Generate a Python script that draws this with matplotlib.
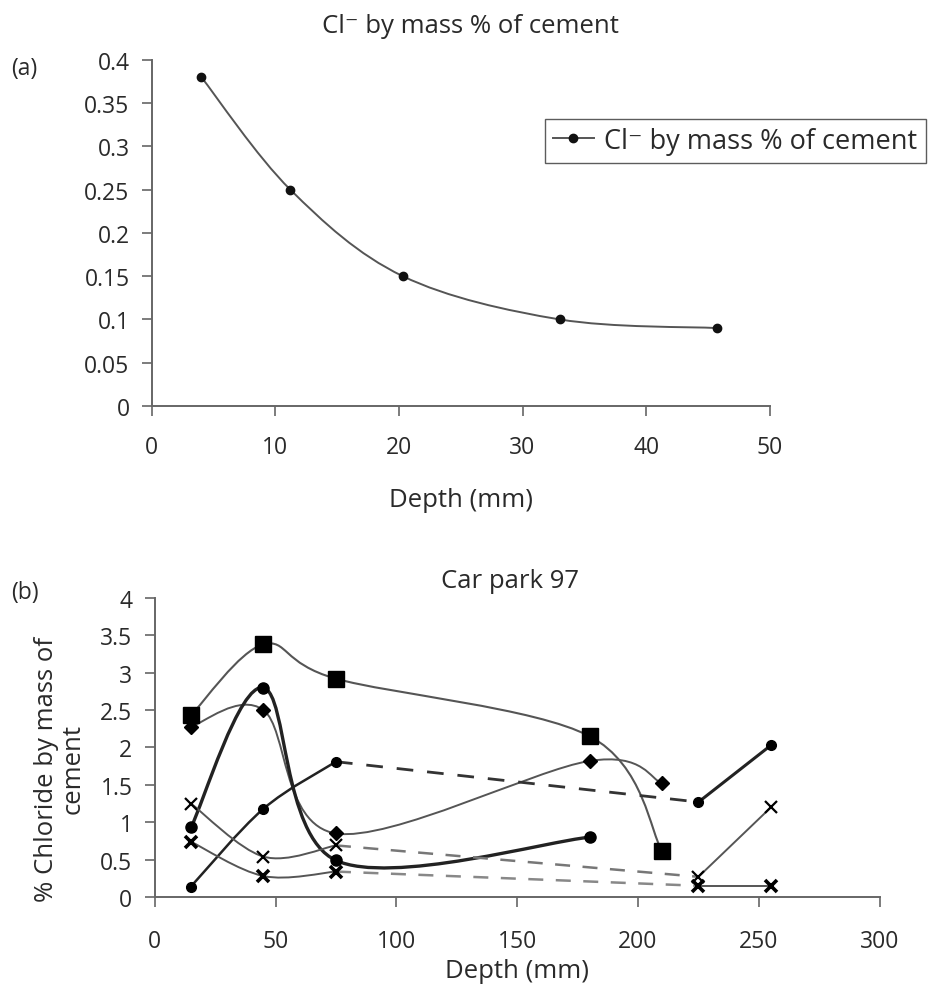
import numpy as np
import matplotlib
matplotlib.use("Agg")
import matplotlib.pyplot as plt
from matplotlib.path import Path
from matplotlib.patches import PathPatch

plt.rcParams['font.family'] = ['Open Sans', 'DejaVu Sans']

# (a) chloride profile
depth_a = [4, 11.2, 20.3, 33, 45.7]
cl_a = [0.38, 0.25, 0.15, 0.10, 0.09]

# (b) Car park 97
sq_x = [15, 45, 75, 180, 210]
sq_y = [2.43, 3.38, 2.92, 2.15, 0.61]
dia_x = [15, 45, 75, 180, 210]
dia_y = [2.28, 2.50, 0.85, 1.82, 1.52]
circA_x = [15, 45, 75, 180]
circA_y = [0.93, 2.80, 0.49, 0.80]
circB_x = [15, 45, 75, 225, 255]
circB_y = [0.14, 1.18, 1.81, 1.27, 2.03]
crossC_x = [15, 45, 75, 225, 255]
crossC_y = [1.25, 0.54, 0.69, 0.27, 1.20]
crossD_x = [15, 45, 75, 225, 255]
crossD_y = [0.74, 0.28, 0.34, 0.15, 0.15]


def smooth_path(xs, ys):
    # Excel-style smoothed line as cubic bezier segments
    pts = np.column_stack([xs, ys]).astype(float)
    n = len(pts)
    verts = [pts[0]]
    codes = [Path.MOVETO]
    for i in range(n - 1):
        p0 = pts[i - 1] if i > 0 else pts[i]
        p1, p2 = pts[i], pts[i + 1]
        p3 = pts[i + 2] if i + 2 < n else p2
        verts += [p1 + (p2 - p0) / 6, p2 - (p3 - p1) / 6, p2]
        codes += [Path.CURVE4] * 3
    return Path(verts, codes)


def smooth_line(ax, xs, ys, color, lw):
    ax.add_patch(PathPatch(smooth_path(xs, ys), fill=False, edgecolor=color, lw=lw, zorder=2))


def style_axes(ax, size):
    for s in ["top", "right"]:
        ax.spines[s].set_visible(False)
    for s in ["left", "bottom"]:
        ax.spines[s].set_color("#666666")
        ax.spines[s].set_linewidth(1.4)
    ax.tick_params(direction="out", length=7, width=1.2, color="#666666", labelsize=size,
                   labelcolor="#2a2a2a")
    ax.tick_params(axis="x", pad=14)
    ax.tick_params(axis="y", pad=9)


fig = plt.figure(figsize=(9.49, 9.95), dpi=100)
txt = "#2a2a2a"

# ---- panel (a)
ax1 = fig.add_axes([0.160, 0.591, 0.651, 0.348])
smooth_line(ax1, depth_a, cl_a, "#555555", 1.4)
ax1.plot(depth_a, cl_a, ls="none", marker="o", ms=6, color="#111111", zorder=3)
ax1.plot([], [], color="#555555", lw=1.4, marker="o", ms=6, mfc="#111111", mec="#111111",
         label="Cl\u207b by mass % of cement")
ax1.set_xlim(0, 50)
ax1.set_ylim(0, 0.4)
ax1.set_xticks([0, 10, 20, 30, 40, 50])
ax1.set_yticks([0, 0.05, 0.1, 0.15, 0.2, 0.25, 0.3, 0.35, 0.4])
ax1.set_yticklabels(["0", "0.05", "0.1", "0.15", "0.2", "0.25", "0.3", "0.35", "0.4"])
style_axes(ax1, 16.5)
ax1.set_xlabel("Depth (mm)", fontsize=18.5, labelpad=20, color=txt)
ax1.set_title("Cl\u207b by mass % of cement", fontsize=18.5, pad=20, color=txt, x=0.515)
leg = ax1.legend(loc="upper left", bbox_to_anchor=(0.636, 0.83), frameon=True, fancybox=False,
                 fontsize=19.5, handlelength=1.5, handletextpad=0.4, borderpad=0.3,
                 borderaxespad=0, edgecolor="#333333")
leg.get_frame().set_linewidth(1.0)
for t in leg.get_texts():
    t.set_color(txt)
fig.text(0.012, 0.925, "(a)", fontsize=16.5, color=txt)

# ---- panel (b)
ax2 = fig.add_axes([0.163, 0.0975, 0.764, 0.3005])
grey = "#555555"
dark = "#222222"

smooth_line(ax2, sq_x, sq_y, grey, 1.5)
ax2.plot(sq_x, sq_y, ls="none", marker="s", ms=11, color="black", zorder=3)

smooth_line(ax2, dia_x, dia_y, grey, 1.4)
ax2.plot(dia_x, dia_y, ls="none", marker="D", ms=7, color="black", zorder=3)

smooth_line(ax2, circA_x, circA_y, dark, 2.4)
ax2.plot(circA_x, circA_y, ls="none", marker="o", ms=8, color="black", zorder=3)

smooth_line(ax2, circB_x[:3], circB_y[:3], dark, 1.8)
ax2.plot(circB_x[2:4], circB_y[2:4], ls=(0, (6, 5)), color="#333333", lw=2.0, zorder=2)
ax2.plot(circB_x[3:], circB_y[3:], color=dark, lw=2.2, zorder=2)
ax2.plot(circB_x, circB_y, ls="none", marker="o", ms=7, color="black", zorder=3)

smooth_line(ax2, crossC_x[:3], crossC_y[:3], grey, 1.4)
ax2.plot(crossC_x[2:4], crossC_y[2:4], ls=(0, (6, 5)), color="#777777", lw=1.8, zorder=2)
ax2.plot(crossC_x[3:], crossC_y[3:], color=grey, lw=1.4, zorder=2)
ax2.plot(crossC_x, crossC_y, ls="none", marker="x", ms=8, mew=1.6, color="black", zorder=3)

smooth_line(ax2, crossD_x[:3], crossD_y[:3], grey, 1.4)
ax2.plot(crossD_x[2:4], crossD_y[2:4], ls=(0, (6, 5)), color="#888888", lw=1.8, zorder=2)
ax2.plot(crossD_x[3:], crossD_y[3:], color=grey, lw=1.4, zorder=2)
ax2.plot(crossD_x, crossD_y, ls="none", marker="x", ms=8, mew=2.6, color="black", zorder=3)

ax2.set_xlim(0, 300)
ax2.set_ylim(0, 4)
ax2.set_xticks([0, 50, 100, 150, 200, 250, 300])
ax2.set_yticks([0, 0.5, 1, 1.5, 2, 2.5, 3, 3.5, 4])
ax2.set_yticklabels(["0", "0.5", "1", "1.5", "2", "2.5", "3", "3.5", "4"])
style_axes(ax2, 16.5)
ax2.tick_params(axis="x", pad=16)
ax2.set_xlabel("Depth (mm)", fontsize=18.5, labelpad=4, color=txt)
ax2.set_ylabel("% Chloride by mass of\ncement", fontsize=18.5, color=txt, linespacing=1.1)
ax2.yaxis.set_label_coords(-0.095, 0.43)
ax2.set_title("Car park 97", fontsize=18.5, pad=8, color=txt, x=0.49)
fig.text(0.012, 0.398, "(b)", fontsize=16.5, color=txt)

fig.savefig("out.png", dpi=100)
